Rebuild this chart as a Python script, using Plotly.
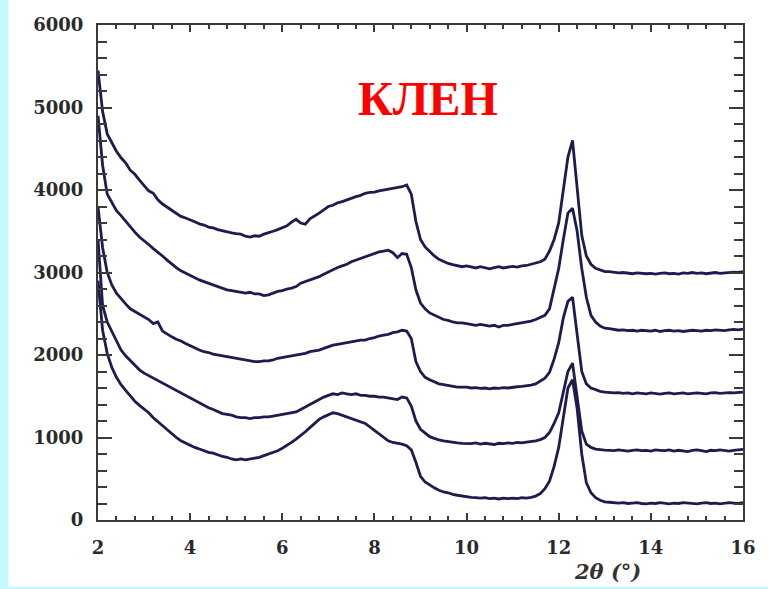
import plotly.graph_objects as go

# 2-theta sampling grid (degrees), 2.0 .. 16.0 step 0.1
TWO_THETA = [round(2 + 0.1 * i, 1) for i in range(141)]

CURVE_1 = [
    5450, 4950, 4680, 4580, 4470, 4390, 4330, 4240, 4190, 4120,
    4060, 3990, 3960, 3880, 3830, 3790, 3750, 3720, 3680, 3660,
    3640, 3615, 3590, 3575, 3550, 3540, 3520, 3505, 3490, 3480,
    3470, 3465, 3440, 3430, 3445, 3440, 3465, 3480, 3500, 3520,
    3540, 3565, 3610, 3645, 3600, 3585, 3650, 3680, 3720, 3760,
    3800, 3815, 3845, 3860, 3880, 3905, 3920, 3935, 3960, 3970,
    3975, 3990, 4000, 4010, 4015, 4025, 4040, 4060, 3950, 3620,
    3400, 3310, 3250, 3200, 3160, 3135, 3110, 3095, 3080, 3070,
    3080, 3065, 3055, 3070, 3060, 3045, 3060, 3070, 3055, 3065,
    3075, 3065, 3080, 3085, 3100, 3110, 3130, 3160, 3260, 3400,
    3600, 4000, 4400, 4600, 4000, 3450, 3200, 3100, 3050, 3030,
    3010,
    3010, 3000, 2995, 3000, 2990, 2985, 2995, 2990, 2985, 2990,
    2980, 2990, 2995, 2985, 2990, 2980, 2995, 2990, 3000, 2990,
    2995, 2985, 2995, 3000, 2990, 2995, 3000, 3005, 3000, 3010,
]

CURVE_2 = [
    4900, 4300, 3950, 3850, 3750, 3690, 3620, 3560, 3490, 3430,
    3390, 3340, 3290, 3250, 3200, 3150, 3100, 3060, 3020, 2990,
    2960, 2940, 2910, 2890, 2870, 2850, 2830, 2810, 2790, 2780,
    2770, 2760, 2750, 2760, 2740, 2740, 2720, 2730, 2750, 2770,
    2780, 2800, 2810, 2830, 2870, 2890, 2910, 2930, 2950, 2980,
    3010, 3030, 3060, 3080, 3100, 3130, 3150, 3170, 3190, 3210,
    3230, 3250, 3260, 3270, 3240, 3180, 3230, 3220, 3060, 2790,
    2630, 2560, 2510, 2480, 2450, 2430, 2420, 2400, 2390, 2390,
    2380, 2370, 2360, 2370, 2360, 2350, 2360, 2340, 2360, 2360,
    2370, 2380, 2390, 2400, 2410, 2430, 2460, 2480, 2560, 2800,
    3050, 3400, 3720, 3780, 3500, 3050, 2700, 2480, 2400, 2350,
    2325,
    2320, 2310, 2300, 2305, 2295, 2300, 2290, 2300, 2295, 2290,
    2300, 2285, 2295, 2300, 2290, 2295, 2285, 2290, 2300, 2295,
    2290, 2300, 2295, 2305, 2300, 2295, 2305, 2310, 2305, 2315,
]

CURVE_3 = [
    3800, 3300, 3000, 2850, 2750, 2680, 2620, 2560, 2530, 2500,
    2470, 2430, 2380, 2400, 2290, 2250, 2220, 2190, 2170, 2140,
    2110, 2090, 2060, 2040, 2030, 2010, 2000, 1990, 1980, 1970,
    1960, 1950, 1940, 1930, 1920, 1920, 1930, 1930, 1940, 1960,
    1970, 1980, 1990, 2000, 2010, 2020, 2040, 2050, 2060, 2080,
    2100, 2120, 2130, 2140, 2150, 2160, 2170, 2180, 2180, 2200,
    2210, 2230, 2240, 2250, 2270, 2280, 2300, 2290, 2200, 1920,
    1800, 1730, 1700, 1670, 1650, 1640, 1630, 1620, 1610, 1610,
    1610, 1600, 1605, 1595, 1600, 1590, 1600, 1595, 1605, 1600,
    1610, 1615, 1620, 1625, 1635, 1650, 1680, 1720, 1790, 1950,
    2150, 2450, 2650, 2700, 2250, 1800, 1650, 1600, 1580, 1560,
    1550,
    1545, 1540, 1545, 1535, 1540, 1530, 1540, 1535, 1530, 1540,
    1535, 1525, 1535, 1540, 1530, 1535, 1540, 1530, 1535, 1540,
    1535, 1530, 1540, 1545, 1535, 1540, 1545, 1540, 1545, 1550,
]

CURVE_4 = [
    3400, 2600, 2400, 2280, 2180, 2060, 1990, 1930, 1880, 1820,
    1780, 1750, 1720, 1690, 1660, 1630, 1600, 1570, 1540, 1510,
    1480, 1450, 1420, 1390, 1360, 1340, 1310, 1290, 1280, 1270,
    1250, 1240, 1240, 1230, 1240, 1240, 1250, 1250, 1260, 1270,
    1280, 1290, 1300, 1310, 1340, 1370, 1400, 1430, 1470, 1490,
    1510, 1530, 1520, 1540, 1530, 1520, 1530, 1510, 1510, 1500,
    1500, 1490, 1490, 1480, 1470, 1460, 1490, 1480, 1380, 1200,
    1100, 1050, 1010, 990, 970, 960, 950, 940, 935, 930,
    930, 925, 935, 920, 930, 925, 915, 930, 925, 935,
    930, 940, 935, 945, 950, 960, 975, 1000, 1060, 1170,
    1300, 1550, 1800, 1900, 1500, 1080, 920, 880, 860, 850,
    848,
    845, 840, 850, 845, 835, 845, 850, 840, 845, 835,
    850, 845, 840, 850, 835, 845, 840, 830, 845, 850,
    840, 830, 845, 840, 850, 845, 835, 845, 850, 855,
]

CURVE_5 = [
    2900, 2300, 2020, 1850, 1730, 1640, 1570, 1500, 1440, 1390,
    1350, 1300, 1240, 1190, 1140, 1090, 1040, 1000, 960, 930,
    900, 880, 860, 840, 820, 810, 790, 770, 760, 740,
    730, 740, 730, 740, 750, 760, 780, 800, 820, 840,
    870, 900, 940, 980, 1020, 1070, 1120, 1170, 1220, 1250,
    1280, 1300, 1290, 1270, 1250, 1230, 1210, 1190, 1170, 1130,
    1090, 1050, 1000, 960, 940, 930, 920, 900, 850, 700,
    530, 460, 420, 390, 360, 340, 330, 310, 300, 290,
    285, 275, 270, 265, 270, 260, 265, 255, 265, 260,
    265, 260, 270, 265, 275, 290, 320, 380, 470, 650,
    880, 1250, 1600, 1700, 1350, 800, 450, 330, 270, 240,
    220,
    215, 210, 205, 210, 200, 205, 210, 200, 195, 205,
    200, 210, 200, 195, 205, 200, 210, 205, 200, 195,
    205, 210, 200, 205, 195, 205, 210, 205, 200, 210,
]

SERIES = [CURVE_1, CURVE_2, CURVE_3, CURVE_4, CURVE_5]
X_TICKS = [2, 4, 6, 8, 10, 12, 14, 16]
Y_TICKS = [0, 1000, 2000, 3000, 4000, 5000, 6000]

LINE_COLOR = "#1c1c50"
AXIS_COLOR = "#3a3a3a"
LABEL_COLOR = "#2a2a2a"

fig = go.Figure()
for ys in SERIES:
    fig.add_trace(go.Scatter(
        x=TWO_THETA, y=ys, mode="lines",
        line=dict(color=LINE_COLOR, width=2.8),
        showlegend=False, hoverinfo="skip",
    ))

tick_font = dict(family="DejaVu Serif", size=18, color=LABEL_COLOR, weight="bold")

fig.update_layout(
    width=768, height=589,
    margin=dict(l=98, r=21, t=25, b=69),
    paper_bgcolor="white", plot_bgcolor="white",
    xaxis=dict(
        range=[2, 16], tickvals=X_TICKS, ticktext=[str(v) for v in X_TICKS],
        showgrid=False, zeroline=False,
        showline=True, linecolor=AXIS_COLOR, linewidth=2, mirror="ticks",
        ticks="inside", ticklen=7, tickwidth=2, tickcolor=AXIS_COLOR,
        minor=dict(dtick=0.4, tick0=2, ticks="inside", ticklen=4,
                   tickwidth=1.5, tickcolor=AXIS_COLOR, showgrid=False),
        tickfont=tick_font, ticklabelstandoff=10,
    ),
    yaxis=dict(
        range=[0, 6000], tickvals=Y_TICKS, ticktext=[str(v) for v in Y_TICKS],
        showgrid=False, zeroline=False,
        showline=True, linecolor=AXIS_COLOR, linewidth=2, mirror="ticks",
        ticks="inside", ticklen=14, tickwidth=2, tickcolor=AXIS_COLOR,
        minor=dict(dtick=200, tick0=0, ticks="inside", ticklen=9,
                   tickwidth=1.5, tickcolor=AXIS_COLOR, showgrid=False),
        tickfont=tick_font, ticklabelstandoff=9,
    ),
    shapes=[
        dict(type="rect", xref="paper", yref="paper",
             x0=-0.152, x1=-0.1387, y0=-0.14, y1=1.06,
             fillcolor="#c4f9fd", line=dict(width=0), layer="below"),
        dict(type="rect", xref="paper", yref="paper",
             x0=-0.152, x1=1.04, y0=-0.14, y1=-0.1343,
             fillcolor="#c4f9fd", line=dict(width=0), layer="below"),
    ],
    annotations=[
        dict(text="КЛЕН", xref="paper", yref="paper", x=0.5116, y=0.8525,
             showarrow=False, xanchor="center", yanchor="middle",
             font=dict(family="Liberation Serif", size=48, color="#ff0000",
                       weight="bold")),
        dict(text="<i>2θ (°)</i>", xref="paper", yref="paper",
             x=0.7904, y=-0.105, showarrow=False,
             xanchor="center", yanchor="middle",
             font=dict(family="DejaVu Serif", size=21, color="#333333",
                       weight="bold")),
    ],
)

fig.write_html(
    "out.html",
    config={"displayModeBar": False},
    post_script="document.body.style.margin='0';document.body.style.overflow='hidden';",
)
